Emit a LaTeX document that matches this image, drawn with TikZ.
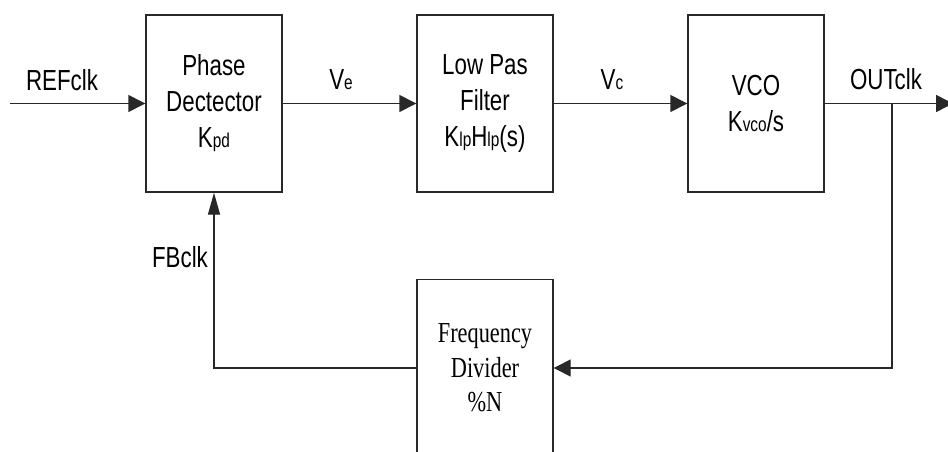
\documentclass[tikz,border=0pt]{standalone}
\usepackage{fontspec}
\setmainfont{Liberation Sans}[FakeStretch=0.77]
\newfontfamily\serifn{Liberation Serif}[FakeStretch=0.77]
\usetikzlibrary{arrows.meta}
\newcommand{\sbs}[1]{{\fontsize{20}{20}\selectfont #1}}
\definecolor{ln}{RGB}{40,40,40}
\begin{document}
\begin{tikzpicture}[x=1pt,y=-1pt,
 blk/.style={draw=ln, line width=1.4pt, minimum width=136pt, minimum height=177pt, inner sep=0pt, align=center, font=\fontsize{29}{36}\selectfont},
 lbl/.style={anchor=base, inner sep=0pt, font=\fontsize{29}{36}\selectfont},
 wire/.style={draw=ln, line width=1.4pt},
 harr/.style={-{Triangle[length=17pt,width=17pt]}},
 varr/.style={-{Triangle[length=22pt,width=12pt]}}]
\clip (0,0) rectangle (948,452);
\fill[white] (0,0) rectangle (948,452);
\node[blk] (pd) at (214,103.5) {Phase\\Dectector\\K\sbs{pd}};
\node[blk] (lpf) at (485,103.5) {Low Pas\\Filter\\K\sbs{lp}H\sbs{lp}(s)};
\node[blk] (vco) at (756,103.5) {VCO\\K\sbs{vco}/s};
\node[blk, font=\serifn\fontsize{29}{34.5}\selectfont] (fd) at (485,368) {Frequency\\Divider\\\%N};
\coordinate (in) at (10,103.5);
\coordinate (out) at (953,103.5);
\coordinate (br) at (892,103.5);
\coordinate (c1) at (892,368);
\coordinate (c2) at (214,368);
\draw[wire,harr] (in) -- (pd.west);
\draw[wire,harr] (pd.east) -- (lpf.west);
\draw[wire,harr] (lpf.east) -- (vco.west);
\draw[wire,harr] (vco.east) -- (out);
\draw[wire,harr] (br) -- (c1) -- (fd.east);
\draw[wire,varr] (fd.west) -- (c2) -- (pd.south);
\node[lbl] (lref) at (62,90) {REFclk};
\node[lbl] (lve) at (341,89) {V\sbs{e}};
\node[lbl] (lvc) at (612,89) {V\sbs{c}};
\node[lbl] (lout) at (886,89) {OUTclk};
\node[lbl] (lfb) at (180,267) {FBclk};
\end{tikzpicture}
\end{document}
